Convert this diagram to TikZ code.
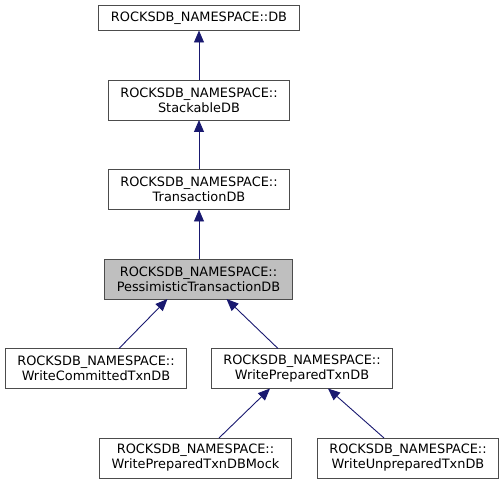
\documentclass[tikz,border=0pt]{standalone}
\usepackage{fontspec}
\setmainfont{DejaVu Sans}
\usepackage{xcolor}
\usepackage{tikz}
\usetikzlibrary{arrows.meta, positioning}
\definecolor{edgeblue}{HTML}{191970}
\tikzset{
  cls/.style={rectangle, draw=black!70, fill=white, line width=0.9pt,
    align=center, inner xsep=12pt, inner ysep=3pt, outer sep=0pt,
    minimum height=40pt, font=\fontsize{12.9}{15}\selectfont},
  current/.style={cls, fill=black!25},
  inherit/.style={-{Triangle[length=12pt, width=10pt]}, line width=0.9pt, edgeblue}
}
\newcommand{\ns}{ROCKSDB\_NAMESPACE::}

\begin{document}
\begin{tikzpicture}[node distance=49.5pt]
  \useasboundingbox (-199pt,17.75pt) rectangle (305pt,-466.25pt);
  \node[cls, minimum height=25.5pt] (db) at (0,0) {\ns DB};
  \node[cls, below=of db] (stackable) {\ns\\ StackableDB};
  \node[cls, below=of stackable] (txndb) {\ns\\ TransactionDB};
  \node[current, below=of txndb, xshift=-0.5pt] (pessimistic) {\ns\\ PessimisticTransactionDB};
  \node[cls, below=of pessimistic, xshift=-102.5pt] (committed) {\ns\\ WriteCommittedTxnDB};
  \node[cls, below=of pessimistic, xshift=103.5pt] (prepared) {\ns\\ WritePreparedTxnDB};
  \node[cls, below=of prepared, xshift=-106.5pt] (mock) {\ns\\ WritePreparedTxnDBMock};
  \node[cls, below=of prepared, xshift=106pt] (unprepared) {\ns\\ WriteUnpreparedTxnDB};

  \draw[inherit] (stackable) -- (db);
  \draw[inherit] (txndb) -- (stackable);
  \draw[inherit] (pessimistic.north -| txndb.south) -- (txndb);
  \draw[inherit] ([xshift=23pt]committed.north) -- ([xshift=-31pt]pessimistic.south);
  \draw[inherit] ([xshift=-24pt]prepared.north) -- ([xshift=28pt]pessimistic.south);
  \draw[inherit] ([xshift=23.5pt]mock.north) -- ([xshift=-32pt]prepared.south);
  \draw[inherit] ([xshift=-24pt]unprepared.north) -- ([xshift=26pt]prepared.south);
\end{tikzpicture}
\end{document}
